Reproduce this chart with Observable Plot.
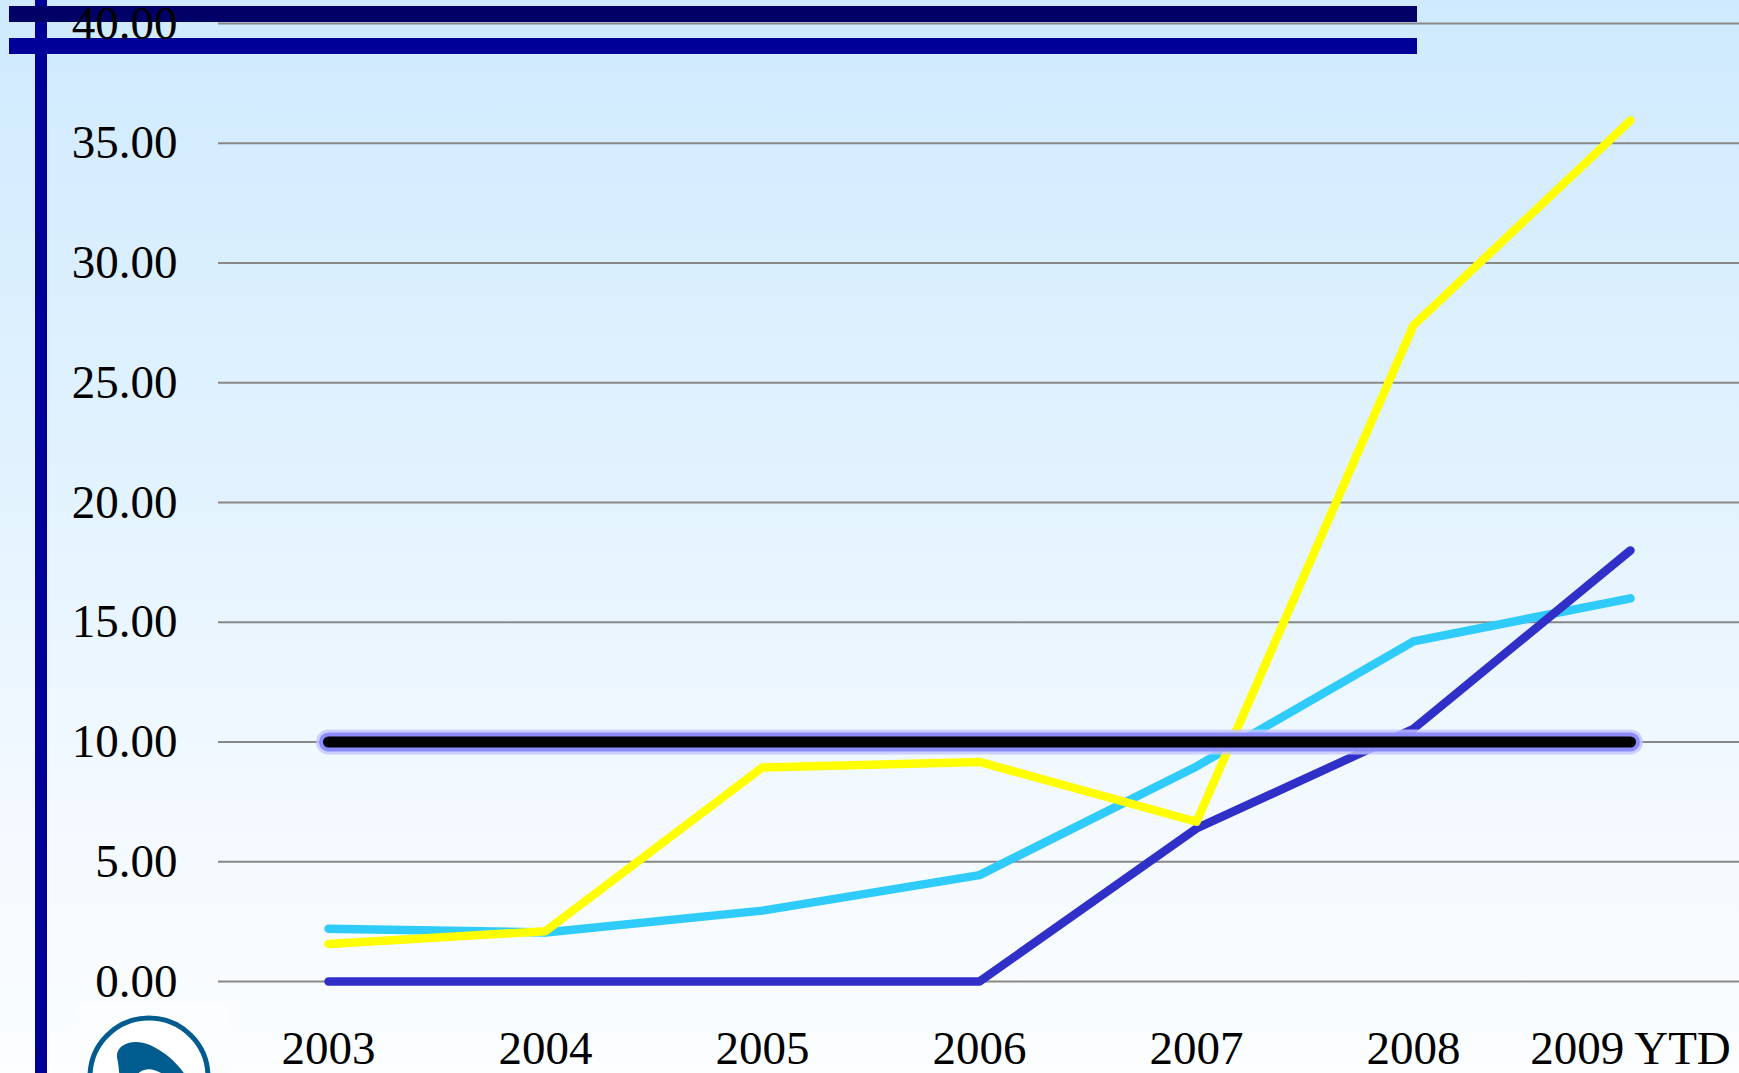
<!DOCTYPE html>
<html>
<head>
<meta charset="utf-8">
<script src="https://cdn.jsdelivr.net/npm/d3@7"></script>
<script src="https://cdn.jsdelivr.net/npm/@observablehq/plot@0.6"></script>
<style>
  html, body { margin: 0; padding: 0; }
  body {
    width: 1739px; height: 1073px; overflow: hidden; position: relative;
    background: linear-gradient(to bottom, #cfeafe 0px, #e3f3fe 500px, #f3f9ff 800px, #f8fcff 981px, #fcfeff 1073px);
    font-family: "Liberation Serif", "Times New Roman", serif;
  }
  .deco { position: absolute; }
  #chart { position: absolute; left: 0; top: 0; z-index: 2; }
</style>
</head>
<body>
<div class="deco" style="left:35px;top:0;width:12px;height:1073px;background:#000099;z-index:0"></div>
<div class="deco" style="left:9px;top:6px;width:1408px;height:16px;background:#000066;z-index:1"></div>
<div class="deco" style="left:9px;top:38px;width:1408px;height:16px;background:#000099;z-index:1"></div>
<svg class="deco" style="left:78px;top:1003px;z-index:1" width="150" height="70" viewBox="78 1003 150 70">
  <rect x="78" y="1003" width="150" height="70" fill="#fbfdff"/>
  <circle cx="149" cy="1077" r="59" fill="#ffffff" stroke="#005b8f" stroke-width="5"/>
  <path d="M118 1062 C112 1045 132 1037 150 1045 C168 1053 182 1068 188 1080 L170 1080 C160 1070 148 1066 140 1072 C134 1076 134 1080 134 1080 L120 1080 Z" fill="#005b8f"/>
</svg>
<div id="chart"></div>
<script>
const years = ["2003", "2004", "2005", "2006", "2007", "2008", "2009 YTD"];
const yellowValues = [1.57, 2.1, 8.94, 9.17, 6.67, 27.4, 35.95];
const cyanValues = [2.2, 2.05, 2.96, 4.44, 8.98, 14.2, 16.0];
const blueValues = [0, 0, 0, 0, 6.39, 10.55, 18.0];
const thresholdValues = [10, 10, 10, 10, 10, 10, 10];
const yTicks = [0, 5, 10, 15, 20, 25, 30, 35, 40];

const toRows = (vals) => years.map((year, i) => ({year, value: vals[i]}));
const yellow = toRows(yellowValues);
const cyan = toRows(cyanValues);
const blue = toRows(blueValues);
const threshold = toRows(thresholdValues);

const chart = Plot.plot({
  width: 1739,
  height: 1073,
  marginLeft: 218,
  marginRight: 0,
  marginTop: 23,
  marginBottom: 92,
  style: {background: "transparent", color: "black", fontFamily: "'Liberation Serif', 'Times New Roman', serif", fontSize: "47px", overflow: "visible"},
  x: {type: "point", domain: years, padding: 0.5, label: null},
  y: {domain: [0, 40], label: null},
  marks: [
    Plot.gridY(yTicks, {stroke: "#888888", strokeOpacity: 1, strokeWidth: 2}),
    Plot.axisY(yTicks, {tickSize: 0, tickPadding: 41, tickFormat: d => d.toFixed(2), fontSize: 47, label: null}),
    Plot.axisX({tickSize: 0, tickPadding: 49, fontSize: 47, label: null}),
    Plot.line(cyan, {x: "year", y: "value", stroke: "#2ecbfb", strokeWidth: 8.5, strokeLinecap: "round", strokeLinejoin: "round"}),
    Plot.line(blue, {x: "year", y: "value", stroke: "#3030c8", strokeWidth: 8.5, strokeLinecap: "round", strokeLinejoin: "round"}),
    Plot.line(yellow, {x: "year", y: "value", stroke: "#ffff00", strokeWidth: 8.5, strokeLinecap: "round", strokeLinejoin: "round"}),
    Plot.line(threshold, {x: "year", y: "value", stroke: "#c4c4ff", strokeWidth: 25, strokeOpacity: 0.8, strokeLinecap: "round"}),
    Plot.line(threshold, {x: "year", y: "value", stroke: "#8c8cff", strokeWidth: 19, strokeOpacity: 1, strokeLinecap: "round"}),
    Plot.line(threshold, {x: "year", y: "value", stroke: "#000000", strokeWidth: 11, strokeLinecap: "round"})
  ]
});
document.getElementById("chart").appendChild(chart);
</script>
</body>
</html>
